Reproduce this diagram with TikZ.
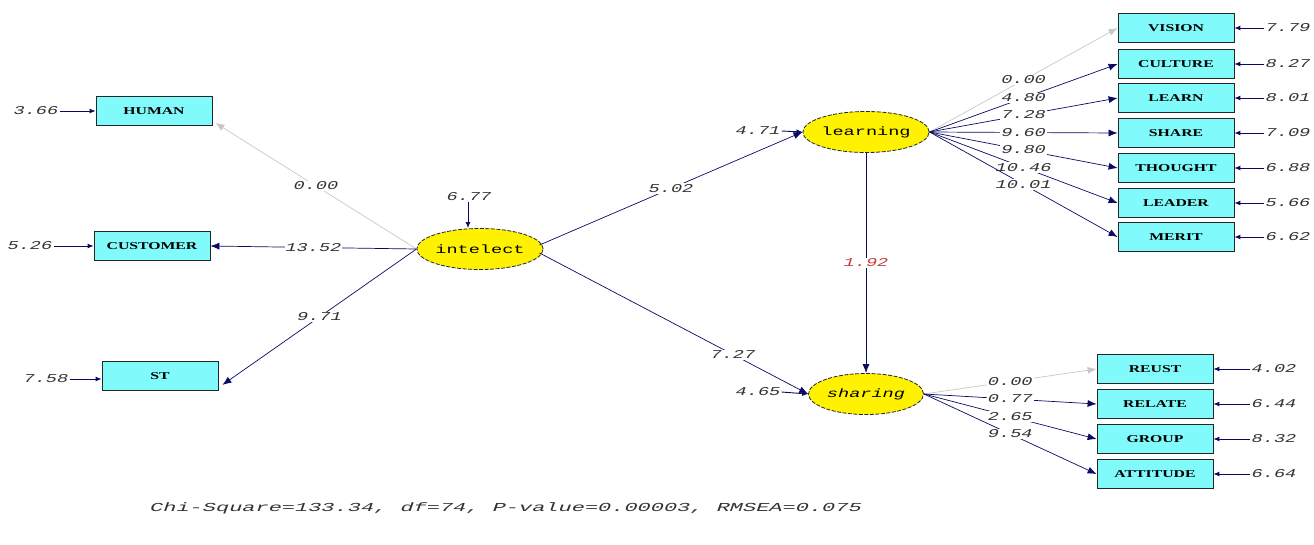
\documentclass[tikz,border=0pt]{standalone}
\usepackage{fontspec}
\usetikzlibrary{shapes.geometric,arrows.meta,calc}
\newfontfamily\boxfont[FakeStretch=1.5]{Liberation Serif}
\newfontfamily\numfont[FakeStretch=1.55]{Liberation Mono}
\newfontfamily\fitfont[FakeStretch=1.8]{Liberation Mono}
\definecolor{boxcyan}{RGB}{128,250,250}
\definecolor{navy}{RGB}{10,10,100}
\definecolor{fixgray}{RGB}{200,200,200}
\definecolor{estred}{RGB}{200,60,60}
\tikzset{
  obs/.style={draw=black!85, line width=0.8, fill=boxcyan, minimum width=116,
    minimum height=29, inner sep=0, font=\boxfont\bfseries\fontsize{10.5}{10.5}\selectfont},
  lat/.style={ellipse, draw=black!85, line width=0.8, dash pattern=on 4pt off 1.5pt,
    fill=yellow, minimum width=115, minimum height=41, inner sep=0,
    font=\numfont\fontsize{12}{12}\selectfont},
  errnum/.style={inner sep=1, font=\numfont\itshape\fontsize{12}{12}\selectfont, text=black!80},
  lab/.style={fill=white, inner sep=1, font=\numfont\itshape\fontsize{12}{12}\selectfont, text=black!80},
  pathar/.style={draw=navy, line width=0.7, -{Latex[length=9,width=7]}},
  fixar/.style={draw=fixgray, line width=0.7, -{Latex[length=9,width=7]}},
  errar/.style={draw=navy, line width=0.9, -{Latex[length=6,width=5]}},
}
\begin{document}
\begin{tikzpicture}[x=1pt,y=-1pt]
\useasboundingbox (0,0) rectangle (1314,544);

% observed indicators of intelect
\node[obs] (human) at (154,111) {HUMAN};
\node[obs] (customer) at (152,246) {CUSTOMER};
\node[obs] (st) at (160,376) {ST};

% latent variables
\node[lat] (intelect) at (480,249) {intelect};
\node[lat] (learning) at (866,132) {learning};
\node[lat] (sharing) at (866,394) {\itshape sharing};

% indicators of learning
\node[obs] (vision) at (1176,28) {VISION};
\node[obs] (culture) at (1176,64) {CULTURE};
\node[obs] (learn) at (1176,98) {LEARN};
\node[obs] (share) at (1176,133) {SHARE};
\node[obs] (thought) at (1176,168) {THOUGHT};
\node[obs] (leader) at (1176,203) {LEADER};
\node[obs] (merit) at (1176,237) {MERIT};

% indicators of sharing
\node[obs] (reust) at (1155,369) {REUST};
\node[obs] (relate) at (1155,404) {RELATE};
\node[obs] (group) at (1155,439) {GROUP};
\node[obs] (attitude) at (1155,474) {ATTITUDE};

% error variances
\node[errnum] (ehuman) at (36,111) {3.66};
\node[errnum] (ecustomer) at (30,246) {5.26};
\node[errnum] (est) at (46,379) {7.58};
\node[errnum] (eintelect) at (469,197) {6.77};
\node[errnum] (elearning) at (758,131) {4.71};
\node[errnum] (esharing) at (758,392) {4.65};
\node[errnum] (evision) at (1288,28) {7.79};
\node[errnum] (eculture) at (1288,64) {8.27};
\node[errnum] (elearn) at (1288,98) {8.01};
\node[errnum] (eshare) at (1288,133) {7.09};
\node[errnum] (ethought) at (1288,168) {6.88};
\node[errnum] (eleader) at (1288,203) {5.66};
\node[errnum] (emerit) at (1288,237) {6.62};
\node[errnum] (ereust) at (1274,369) {4.02};
\node[errnum] (erelate) at (1274,404) {6.44};
\node[errnum] (egroup) at (1274,439) {8.32};
\node[errnum] (eattitude) at (1274,474) {6.64};

\foreach \e/\v in {ehuman/human,ecustomer/customer,est/st}
  \draw[errar] (\e.east) -- (\e.east -| \v.west);
\foreach \e/\v in {evision/vision,eculture/culture,elearn/learn,eshare/share,
                   ethought/thought,eleader/leader,emerit/merit,
                   ereust/reust,erelate/relate,egroup/group,eattitude/attitude}
  \draw[errar] (\e.west) -- (\v.east);
\draw[errar] (eintelect.south -| intelect.north) ++(-12,0) coordinate (ei)
  (ei) -- (ei |- intelect.north);
\draw[errar] (elearning.east) -- (learning.west);
\draw[errar] (esharing.east) -- (sharing.west);

% loadings of intelect
\draw[fixar] (intelect.west) -- node[lab,pos=0.5]{0.00} ($(human.south east)+(3,-3)$);
\draw[pathar] (intelect.west) -- node[lab,pos=0.5]{13.52} (customer.east);
\draw[pathar] (intelect.west) -- node[lab,pos=0.5]{9.71} ($(st.south east)+(4,-6)$);

% structural paths
\draw[pathar] ($(intelect.east)+(-4,-4)$) -- node[lab,pos=0.5]{5.02} (learning.west);
\draw[pathar] ($(intelect.east)+(-4,4)$) -- node[lab,pos=0.72]{7.27} (sharing.west);
\draw[pathar] (learning.south) -- node[lab,pos=0.5,text=estred]{1.92} (sharing.north);

% loadings of learning
\draw[fixar] (learning.east) -- node[lab]{0.00} (vision.west);
\foreach \v/\t in {culture/4.80,learn/7.28,share/9.60,thought/9.80,leader/10.46,merit/10.01}
  \draw[pathar] (learning.east) -- node[lab]{\t} (\v.west);

% loadings of sharing
\draw[fixar] (sharing.east) -- node[lab]{0.00} (reust.west);
\foreach \v/\t in {relate/0.77,group/2.65,attitude/9.54}
  \draw[pathar] (sharing.east) -- node[lab]{\t} (\v.west);

% goodness of fit
\node[inner sep=0, anchor=west, font=\fitfont\itshape\fontsize{12.2}{12.2}\selectfont, text=black!80]
  (fit) at (150,508) {Chi-Square=133.34, df=74, P-value=0.00003, RMSEA=0.075};
\end{tikzpicture}
\end{document}
